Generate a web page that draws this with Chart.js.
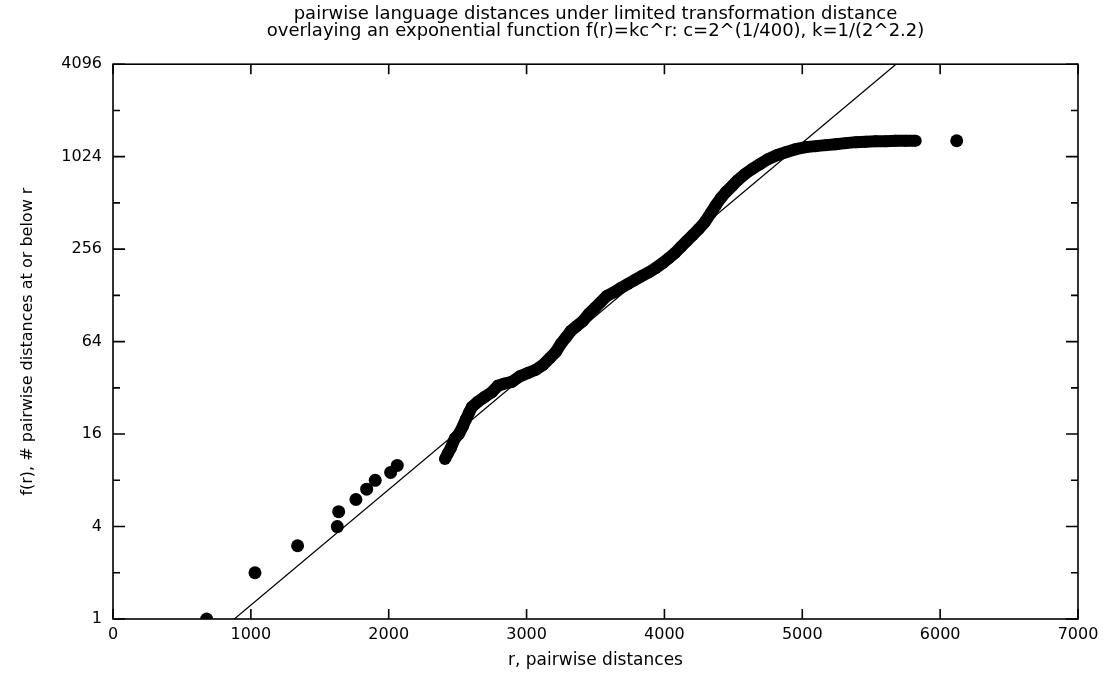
<!DOCTYPE html>
<html>
<head>
<meta charset="utf-8">
<title>pairwise language distances</title>
<script src="https://cdn.jsdelivr.net/npm/chart.js@4/dist/chart.umd.min.js"></script>
<style>
  html, body { margin: 0; padding: 0; background: #fff; }
  canvas { display: block; }
</style>
</head>
<body>
<canvas id="distChart" width="1106" height="677"></canvas>
<script>
// Chart text
const TITLE_LINES = [
    'pairwise language distances under limited transformation distance',
    'overlaying an exponential function f(r)=kc^r: c=2^(1/400), k=1/(2^2.2)'
];
const X_TITLE = 'r, pairwise distances';
const Y_TITLE = 'f(r), # pairwise distances at or below r';

// Axis ticks
const X_TICKS = [0, 1000, 2000, 3000, 4000, 5000, 6000, 7000];
const Y_TICKS = [1, 2, 4, 8, 16, 32, 64, 128, 256, 512, 1024, 2048, 4096];
const Y_LABELS = [1, 4, 16, 64, 256, 1024, 4096];

// Isolated points at small r
const sparseR = [679, 1030, 1339, 1627, 1637, 1762, 1840, 1902, 2014, 2062, 6120];
const sparseCount = [1, 2, 3, 4, 5, 6, 7, 8, 9, 10, 1300];

// Dense part of the cumulative curve (read along the band)
const curveR = [
    2408, 2429, 2451, 2480, 2509, 2538, 2560, 2582, 2603, 2647,
    2698, 2748, 2792, 2835, 2893, 2951, 3009, 3067, 3118, 3169,
    3213, 3249, 3285, 3321, 3365, 3408, 3452, 3495, 3539, 3582,
    3633, 3684, 3735, 3785, 3836, 3887, 3938, 3988, 4032, 4075,
    4119, 4162, 4206, 4249, 4293, 4336, 4373, 4409, 4445, 4489,
    4532, 4583, 4634, 4692, 4750, 4815, 4880, 4953, 5025, 5098,
    5170, 5243, 5315, 5388, 5460, 5533, 5605, 5678, 5750, 5823
];
const curveCount = [
    11, 12, 13, 15, 16, 18, 20, 22, 24, 26,
    28, 30, 33, 34, 35, 38, 40, 42, 45, 50,
    55, 62, 68, 75, 81, 87, 97, 106, 116, 127,
    134, 143, 152, 161, 171, 181, 193, 208, 224, 241,
    264, 289, 316, 346, 384, 439, 495, 550, 601, 658,
    720, 788, 849, 915, 986, 1047, 1095, 1146, 1181, 1199,
    1217, 1235, 1254, 1273, 1282, 1292, 1292, 1300, 1300, 1300
];

// Overlaid exponential, end points where it meets the frame
const fitR = [880, 5680];
const fitF = [1, 4096];

const FONT = 'DejaVu Sans';

function toPoints(xs, ys) {
    return xs.map((x, i) => ({ x: x, y: ys[i] }));
}

// Frame and inward tick marks, gnuplot style
const framePlugin = {
    id: 'frame',
    afterDraw(chart) {
        const ctx = chart.ctx;
        const { left, right, top, bottom } = chart.chartArea;
        const xs = chart.scales.x;
        const ys = chart.scales.y;
        ctx.save();
        ctx.strokeStyle = '#000';
        ctx.lineWidth = 1.6;
        ctx.strokeRect(left, top, right - left, bottom - top);
        ctx.beginPath();
        X_TICKS.forEach(v => {
            const px = xs.getPixelForValue(v);
            ctx.moveTo(px, bottom);
            ctx.lineTo(px, bottom - 10);
            ctx.moveTo(px, top);
            ctx.lineTo(px, top + 10);
        });
        Y_TICKS.forEach(v => {
            const py = ys.getPixelForValue(v);
            const len = Y_LABELS.includes(v) ? 12 : 7;
            ctx.moveTo(left, py);
            ctx.lineTo(left + len, py);
            ctx.moveTo(right, py);
            ctx.lineTo(right - len, py);
        });
        ctx.stroke();
        ctx.restore();
    }
};

const ctx = document.getElementById('distChart').getContext('2d');
const chart = new Chart(ctx, {
    type: 'scatter',
    data: {
        datasets: [
            {
                label: 'fit',
                data: toPoints(fitR, fitF),
                showLine: true,
                borderColor: '#000',
                borderWidth: 1.2,
                pointRadius: 0,
                fill: false
            },
            {
                label: 'sparse',
                data: toPoints(sparseR, sparseCount),
                showLine: false,
                pointRadius: 6.5,
                pointBackgroundColor: '#000',
                pointBorderWidth: 0
            },
            {
                label: 'curve',
                data: toPoints(curveR, curveCount),
                showLine: true,
                borderColor: '#000',
                borderWidth: 12,
                pointRadius: 6,
                pointBackgroundColor: '#000',
                pointBorderWidth: 0
            }
        ]
    },
    options: {
        responsive: false,
        animation: false,
        devicePixelRatio: 1,
        layout: {
            padding: { left: 0, right: 28, top: 0, bottom: 0 }
        },
        plugins: {
            legend: { display: false },
            tooltip: { enabled: false },
            title: {
                display: true,
                fullSize: false,
                text: TITLE_LINES,
                color: '#000',
                font: { family: FONT, size: 18, weight: 'normal', lineHeight: 0.95 },
                padding: { top: 6, bottom: 24 }
            }
        },
        scales: {
            x: {
                type: 'linear',
                min: 0,
                max: 7000,
                afterBuildTicks(axis) {
                    axis.ticks = X_TICKS.map(v => ({ value: v }));
                },
                afterFit(scale) {
                    scale.height = 58;
                },
                grid: { display: false, drawTicks: false },
                border: { display: false },
                ticks: {
                    color: '#000',
                    padding: 6,
                    maxRotation: 0,
                    autoSkip: false,
                    font: { family: FONT, size: 16 },
                    callback: function(value) {
                        return String(value);
                    }
                },
                title: {
                    display: true,
                    text: X_TITLE,
                    color: '#000',
                    font: { family: FONT, size: 17 },
                    padding: { top: 0, bottom: 6 }
                }
            },
            y: {
                type: 'logarithmic',
                min: 1,
                max: 4096,
                afterBuildTicks(axis) {
                    axis.ticks = Y_TICKS.map(v => ({ value: v }));
                },
                afterFit(scale) {
                    scale.width = 113;
                },
                grid: { display: false, drawTicks: false },
                border: { display: false },
                ticks: {
                    color: '#000',
                    padding: 11,
                    autoSkip: false,
                    font: { family: FONT, size: 16 },
                    callback: function(value) {
                        return Y_LABELS.includes(value) ? String(value) : '';
                    }
                },
                title: {
                    display: true,
                    text: Y_TITLE,
                    color: '#000',
                    font: { family: FONT, size: 16 },
                    padding: { top: 18, bottom: 18 }
                }
            }
        }
    },
    plugins: [framePlugin]
});
</script>
</body>
</html>
